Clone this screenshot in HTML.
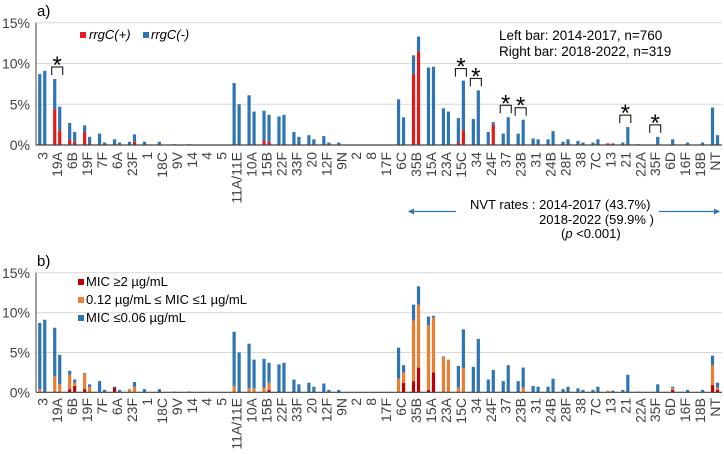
<!DOCTYPE html>
<html><head><meta charset="utf-8">
<style>
html,body{margin:0;padding:0;background:#fff;}
svg{display:block;font-family:"Liberation Sans",Arial,sans-serif;}
</style></head>
<body>
<svg id="chart" width="724" height="454" viewBox="0 0 724 454" xmlns="http://www.w3.org/2000/svg"></svg>
<script>
const categories = ["3","19A","6B","19F","7F","6A","23F","1","18C","9V","14","4","5","11A/11E","10A","15B","22F","33F","20","12F","9N","2","8","17F","6C","35B","15A","23A","15C","34","24F","37","23B","31","24B","28F","38","7C","13","21","22A","35F","6D","16F","18B","NT"];
// totals (%) for 2014-2017 (left) and 2018-2022 (right)
const totalLeft  = [8.7,8.1,2.7,2.4,1.4,0.7,0.4,0.4,0.4,0.1,0.1,0,0,7.6,6.1,4.2,3.5,1.6,1.2,1.1,0.3,0,0,0,5.6,11.0,9.5,4.5,3.3,3.2,1.6,1.4,1.4,0.8,0.7,0.4,0.5,0.3,0.2,0.3,0.1,0,0,0,0,4.6];
const totalRight = [9.1,4.7,1.6,1.0,0.3,0.3,1.3,0,0,0,0,0,0,5.0,4.1,3.7,3.7,1.0,0.7,0.3,0,0,0,0,3.4,13.3,9.6,4.1,7.9,6.7,2.8,3.4,3.1,0.7,1.7,0.7,0.3,0.7,0.2,2.2,0,1.0,0.7,0.3,0.3,1.2];
// rrgC(+) portion
const rrgLeft  = [0,4.4,0.7,1.6,0,0,0,0,0,0,0,0,0,0,0,0.5,0,0,0,0,0,0,0,0,0,8.7,0,0,0.3,0,0,0,0,0,0,0,0,0,0.2,0,0,0,0,0,0,0];
const rrgRight = [0,1.8,0.4,0.2,0,0,0.4,0,0,0,0,0,0,0,0,0.4,0,0,0,0,0,0,0,0,0,11.5,0,0,1.8,0,2.5,0,0,0,0,0,0,0,0.2,0,0,0,0,0,0,0];
// MIC >=2 portion
const micHighLeft  = [0,0,0.4,0.4,0,0.6,0,0,0,0,0,0,0,0,0,0,0,0,0,0,0,0,0,0,0,1.4,0.3,0,0,0,0,0,0,0,0,0,0,0,0,0,0,0,0,0,0,0.9];
const micHighRight = [0,0,0.8,0,0,0,0,0,0,0,0,0,0,0,0,0.3,0,0,0,0,0,0,0,0,1.2,3.1,2.5,0,0,0,0,0,0,0,0,0,0,0,0,0,0,0,0.3,0,0,0.3];
// MIC 0.12-1 cumulative top (incl. high)
const micMidLeft  = [0.4,2.0,2.2,2.3,0,0.6,0.4,0,0,0.1,0,0,0,0.8,0.5,0.6,0,0,0,0,0,0,0,0,1.7,9.0,8.4,4.4,0.6,0,0,0,0,0,0,0,0,0,0.2,0,0.1,0,0,0,0,3.4];
const micMidRight = [0,1.0,1.2,0.7,0,0,0.7,0,0,0,0,0,0,0,0.5,1.2,0,0,0,0,0,0,0,0,2.5,11.0,9.4,4.1,3.0,0,0,0,0.6,0,0,0,0,0,0,0,0,0,0.5,0,0,0.6];
const sigCats = ["19A","15C","34","37","23B","21","35F"];
const yTicks = [0,5,10,15];
const yTickLabels = ["0%","5%","10%","15%"];

const svg = document.getElementById('chart');
const NS = "http://www.w3.org/2000/svg";
function mk(tag, attrs, parent){ const e=document.createElementNS(NS,tag); for(const k in attrs) e.setAttribute(k,attrs[k]); (parent||svg).appendChild(e); return e; }

const X0 = 34.5, SLOT = 14.95;
function xCenter(i){ return X0 + SLOT*(i+0.5) + 0.3; }

function panel(y0, pxPerPct, name, stacksFn, labelTop, title){
  const g = mk('g',{});
  
  
  const yS = v => y0 - v*pxPerPct;
  yTicks.forEach((t,k)=>{
    if(t>0){ const gl = mk('line',{x1:36,x2:722,y1:yS(t),y2:yS(t),stroke:'#d9d9d9','stroke-width':1},g);
        }
    const tl = mk('text',{x:30,y:yS(t)+5,'text-anchor':'end','font-size':14,fill:'#404040'},g);
    tl.textContent = yTickLabels[k];
     
  });
  const tt = mk('text',{x:37,y:yS(15)-7,'font-size':15,fill:'#000'},g);
  tt.textContent = title;
   
  categories.forEach((c,i)=>{
    const cx = xCenter(i);
    [[-2.5,0],[2.5,1]].forEach(([dx,side])=>{
      stacksFn(i,side).forEach(([from,to,col])=>{
        if(to-from<=0) return;
        const r = mk('rect',{x:cx+dx-1.6,y:yS(to),width:3.2,height:(to-from)*pxPerPct,fill:col},g);
        
        
      });
    });
    const lt = mk('text',{transform:`translate(${cx+5},${labelTop}) rotate(-90)`,'text-anchor':'end','font-size':14,fill:'#404040'},g);
    lt.textContent = c;
     
  });
  const ya = mk('line',{x1:36,x2:36,y1:yS(15),y2:y0,stroke:'#404040','stroke-width':1},g);
   
  const xa = mk('line',{x1:36,x2:722,y1:y0,y2:y0,stroke:'#404040','stroke-width':1.2},g);
   
  return yS;
}

const BLUE='#2e75b6', RED='#e31a1c', DRED='#c00000', ORANGE='#ed7d31';
const yA = panel(145, 8.15, 'panel-a', (i,s)=>{
  const t = s?totalRight[i]:totalLeft[i], r = s?rrgRight[i]:rrgLeft[i];
  return [[0,r,RED],[r,t,BLUE]];
}, 152, 'a)');
const yB = panel(392.3, 7.97, 'panel-b', (i,s)=>{
  const t = s?totalRight[i]:totalLeft[i], h = s?micHighRight[i]:micHighLeft[i], m = s?micMidRight[i]:micMidLeft[i];
  return [[0,h,DRED],[h,m,ORANGE],[m,t,BLUE]];
}, 398, 'b)');

// significance brackets
sigCats.forEach(c=>{
  const i = categories.indexOf(c);
  const cx = xCenter(i);
  const top = yA(Math.max(totalLeft[i],totalRight[i])) - 12;
  const p = mk('path',{d:`M${cx-5.5} ${top+8} V${top} H${cx+5.5} V${top+8}`,fill:'none',stroke:'#000','stroke-width':1});
   
  const a = mk('text',{x:cx,y:top+6,'text-anchor':'middle','font-size':24,fill:'#000'});
  a.textContent='*';
   
});

function txt(x,y,s,size,name,extra){ const t=mk('text',Object.assign({x:x,y:y,'font-size':size,fill:'#000'},extra||{})); t.textContent=s;   return t; }
function sw(x,y,col,name){ const r=mk('rect',{x:x,y:y,width:6,height:6,fill:col});   }

// legend a
sw(80,32,RED,'legend-swatch-rrgc-pos'); txt(89,39,'rrgC(+)',13,'legend-entry-rrgc-pos',{'font-style':'italic'});
sw(143,32,BLUE,'legend-swatch-rrgc-neg'); txt(151,39,'rrgC(-)',13,'legend-entry-rrgc-neg',{'font-style':'italic'});
txt(499,40,'Left bar: 2014-2017, n=760',13.5,'left-bar-note');
txt(499,56,'Right bar: 2018-2022, n=319',13.5,'right-bar-note');

// legend b
sw(78,279,DRED,'legend-swatch-mic-high'); txt(86,286,'MIC ≥2 µg/mL',13,'legend-entry-mic-high');
sw(78,297,ORANGE,'legend-swatch-mic-mid'); txt(86,304,'0.12 µg/mL ≤ MIC ≤1 µg/mL',13,'legend-entry-mic-mid');
sw(78,315,BLUE,'legend-swatch-mic-low'); txt(86,322,'MIC ≤0.06 µg/mL',13,'legend-entry-mic-low');

// NVT annotation
txt(470,209,'NVT rates : 2014-2017 (43.7%)',13,'nvt-rates-line1');
txt(539,224,'2018-2022 (59.9% )',13,'nvt-rates-line2');
const p3 = txt(561,238,'',13,'p-value');
p3.innerHTML = '(<tspan font-style="italic">p</tspan> &lt;0.001)';
const la = mk('path',{d:'M456 211.5 H412',stroke:'#2e75b6','stroke-width':1.2,fill:'none'});  
const lh = mk('path',{d:'M408 211.5 L414 208.5 L414 214.5 Z',fill:'#2e75b6'});  
const ra = mk('path',{d:'M659 211.5 H715',stroke:'#2e75b6','stroke-width':1.2,fill:'none'});  
const rh = mk('path',{d:'M720 211.5 L714 208.5 L714 214.5 Z',fill:'#2e75b6'});  
</script>
</body></html>
